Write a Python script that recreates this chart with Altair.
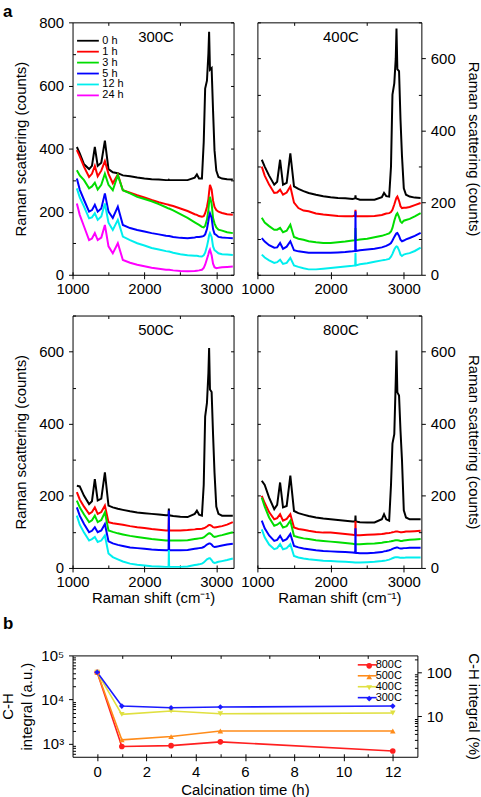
import altair as alt
import pandas as pd

FONT = "Liberation Sans"

# ---------------- Raman spectra (panel a) ----------------
SHIFT = [1060, 1100, 1160, 1230, 1270, 1310, 1350, 1400, 1450, 1500, 1560, 1630, 1700, 1800,
         1900, 2000, 2100, 2200, 2300, 2336, 2340, 2344, 2400, 2500, 2600, 2700, 2730, 2760,
         2800, 2825, 2845, 2870, 2890, 2900, 2912, 2935, 2955, 2975, 3000, 3030, 3080, 3150, 3230]

HOURS = ["0 h", "1 h", "3 h", "5 h", "12 h", "24 h"]
HOUR_COLORS = ["#000000", "#ff0000", "#00dd00", "#0000ff", "#00eeee", "#ff00ff"]

# 300C
C300_0h = [405, 385, 350, 335, 345, 405, 345, 355, 425, 335, 325, 322, 315, 312, 308, 305, 303, 302, 300, 300, 301, 300,
           300, 300, 300, 308, 318, 305, 305, 420, 590, 615, 700, 770, 650, 655, 520, 395, 330, 310, 305, 303, 302]
C300_1h = [395, 375, 342, 310, 320, 345, 312, 330, 360, 320, 290, 318, 268, 260, 252, 245, 237, 230, 224, 222, 222, 221,
           218, 210, 202, 192, 190, 186, 184, 186, 195, 215, 240, 262, 285, 270, 235, 215, 205, 200, 196, 192, 190]
C300_3h = [331, 315, 300, 274, 280, 292, 270, 285, 320, 285, 268, 316, 268, 258, 247, 240, 233, 224, 214, 210, 210, 210,
           204, 192, 180, 166, 162, 158, 152, 150, 155, 175, 205, 230, 247, 225, 180, 163, 150, 143, 140, 135, 132]
C300_5h = [305, 270, 237, 200, 205, 222, 200, 210, 258, 200, 180, 216, 158, 148, 142, 137, 132, 128, 124, 123, 123, 123,
           120, 117, 116, 118, 120, 120, 121, 123, 128, 145, 170, 185, 195, 180, 145, 130, 126, 120, 118, 117, 116]
C300_12h = [274, 245, 216, 179, 182, 195, 174, 185, 226, 165, 142, 174, 121, 110, 100, 93, 85, 80, 75, 74, 74, 74,
            70, 65, 62, 60, 60, 59, 58, 62, 70, 90, 112, 125, 132, 120, 90, 78, 74, 68, 65, 64, 63]
C300_24h = [226, 190, 153, 110, 115, 132, 110, 118, 158, 90, 68, 100, 47, 38, 32, 27, 22, 19, 16, 16, 16, 16,
            14, 12, 11, 12, 13, 14, 16, 22, 32, 50, 65, 74, 80, 62, 35, 24, 21, 22, 24, 25, 26]

# 400C
C400_0h = [319, 300, 275, 250, 258, 319, 250, 255, 337, 245, 238, 232, 227, 222, 218, 215, 213, 212, 210, 212, 220, 212,
           208, 208, 208, 215, 227, 218, 217, 300, 500, 531, 600, 683, 570, 565, 430, 330, 240, 222, 217, 214, 213]
C400_1h = [300, 275, 250, 227, 228, 236, 222, 228, 245, 200, 185, 178, 176, 170, 167, 165, 163, 162, 162, 165, 180, 162,
           162, 162, 163, 166, 168, 170, 171, 174, 180, 195, 208, 214, 217, 205, 190, 185, 186, 186, 188, 193, 199]
C400_3h = [158, 145, 135, 125, 125, 130, 118, 122, 139, 105, 100, 97, 93, 90, 88, 88, 90, 92, 95, 96, 130, 96,
           98, 100, 104, 108, 110, 112, 115, 120, 130, 150, 163, 168, 171, 160, 148, 144, 150, 152, 155, 162, 171]
C400_5h = [102, 92, 82, 75, 76, 88, 72, 78, 93, 68, 65, 63, 61, 61, 61, 61, 62, 63, 65, 66, 176, 66,
           68, 70, 72, 76, 78, 80, 84, 88, 95, 105, 112, 115, 116, 108, 97, 93, 95, 98, 102, 108, 116]
C400_12h = [56, 48, 40, 33, 35, 42, 30, 33, 47, 26, 22, 18, 15, 15, 17, 19, 21, 23, 25, 26, 60, 26,
            29, 32, 36, 40, 41, 42, 44, 50, 58, 70, 77, 79, 78, 68, 56, 52, 56, 58, 60, 66, 75]

# 500C
C500_0h = [228, 226, 200, 177, 185, 246, 187, 192, 265, 173, 168, 164, 161, 157, 154, 152, 150, 148, 146, 146, 165, 146,
           144, 142, 141, 150, 159, 148, 145, 230, 420, 458, 540, 610, 495, 488, 370, 265, 170, 150, 145, 145, 145]
C500_1h = [210, 190, 170, 150, 155, 168, 150, 155, 173, 127, 124, 122, 120, 116, 113, 111, 108, 106, 104, 104, 140, 104,
           104, 104, 105, 107, 108, 108, 109, 110, 112, 115, 118, 119, 119, 117, 113, 112, 113, 114, 116, 120, 127]
C500_3h = [187, 168, 148, 127, 132, 145, 127, 133, 154, 104, 100, 96, 93, 89, 86, 83, 80, 78, 76, 76, 76, 76,
           76, 76, 77, 80, 81, 82, 83, 85, 88, 92, 95, 96, 96, 93, 88, 86, 87, 89, 91, 95, 99]
C500_5h = [168, 145, 122, 99, 103, 113, 99, 104, 122, 74, 68, 64, 61, 57, 55, 53, 51, 50, 49, 49, 159, 49,
           49, 49, 50, 53, 54, 55, 56, 58, 61, 65, 67, 68, 68, 65, 60, 58, 59, 60, 62, 65, 67]
C500_12h = [145, 120, 98, 76, 80, 86, 72, 76, 90, 40, 30, 24, 18, 12, 9, 7, 5, 4, 3, 3, 50, 3,
            3, 3, 4, 8, 9, 10, 12, 15, 19, 24, 26, 27, 27, 22, 16, 14, 15, 17, 19, 22, 26]

# 800C
C800_0h = [242, 230, 195, 163, 175, 237, 168, 172, 256, 158, 152, 148, 144, 140, 137, 135, 133, 131, 129, 129, 145, 129,
           127, 126, 126, 135, 149, 135, 131, 230, 345, 371, 520, 603, 487, 478, 380, 300, 160, 140, 135, 135, 135]
C800_1h = [200, 180, 155, 135, 138, 149, 131, 136, 149, 112, 108, 106, 103, 100, 98, 98, 96, 94, 92, 91, 130, 91,
           91, 92, 93, 94, 95, 96, 97, 98, 99, 100, 101, 101, 101, 100, 99, 99, 100, 101, 101, 102, 103]
C800_3h = [195, 170, 140, 117, 120, 126, 112, 116, 131, 89, 85, 82, 80, 77, 75, 73, 71, 69, 67, 66, 66, 66,
           66, 67, 68, 70, 71, 72, 73, 74, 75, 76, 77, 77, 77, 76, 75, 75, 76, 77, 78, 79, 80]
C800_5h = [131, 110, 90, 75, 78, 89, 75, 80, 94, 61, 57, 54, 52, 49, 47, 46, 45, 44, 43, 42, 110, 42,
           41, 41, 42, 44, 46, 47, 49, 51, 53, 55, 56, 57, 57, 55, 54, 54, 55, 55, 56, 56, 56]
C800_12h = [107, 85, 65, 52, 55, 66, 52, 55, 66, 33, 29, 26, 24, 22, 20, 19, 18, 17, 16, 15, 15, 15,
            15, 16, 17, 19, 20, 21, 23, 25, 27, 29, 30, 30, 30, 29, 28, 28, 28, 29, 29, 29, 29]

# ---------------- C-H integral (panel b) ----------------
TIMES = [0, 1, 3, 5, 12]
CH_800 = [41500, 870, 910, 1110, 690]
CH_500 = [41500, 1230, 1460, 1950, 1950]
CH_400 = [41500, 4650, 5520, 4790, 4980]
CH_300 = [41500, 7150, 6550, 6800, 7150]
TEMPS = ["800C", "500C", "400C", "300C"]
TEMP_COLORS = ["#ff1f1f", "#ff8c1a", "#e0e040", "#1a1aff"]
TEMP_SHAPES = ["circle", "triangle-up", "triangle-down", "diamond"]

H = 254


def cond(test, a, b):
    return {"condition": {"test": test, "value": a}, "value": b}


def spectra_frame(series):
    rows = []
    for hour, values in series:
        for s, v in zip(SHIFT, values):
            rows.append({"shift": s, "counts": v, "time": hour})
    return pd.DataFrame(rows)


def spectrum_panel(series, label, ymax, side, width, xtitle, legend=None, tag=None):
    df = spectra_frame(series)
    xmaj = "datum.value % 1000 == 0"
    x_axis = alt.Axis(
        values=[1000, 1500, 2000, 2500, 3000], format="d",
        labelExpr="datum.value % 1000 == 0 ? datum.label : ''",
        tickOpacity=cond(xmaj, 1, 0), grid=True,
        gridDash=cond(xmaj, [0, H - 3, 3, 3000], [3, H - 6, 3, 3000]),
        labelPadding=3, title=xtitle, titlePadding=1)
    ymaj = "datum.value % 200 == 0"
    y_axis = alt.Axis(
        orient=side, values=list(range(0, ymax + 1, 100)), format="d",
        labelExpr="datum.value % 200 == 0 ? datum.label : ''",
        tickOpacity=cond(ymaj, 1, 0), grid=True,
        gridDash=cond(ymaj, [0, width - 3, 3, 3000], [3, width - 6, 3, 3000]),
        labelPadding=5, title="Raman scattering (counts)", titlePadding=10)
    color = alt.Color("time:N", scale=alt.Scale(domain=HOURS, range=HOUR_COLORS),
                      legend=legend, sort=HOURS)
    lines = alt.Chart(df).mark_line(strokeWidth=2).encode(
        x=alt.X("shift:Q", scale=alt.Scale(domain=[1000, 3240], nice=False, zero=False), axis=x_axis),
        y=alt.Y("counts:Q", scale=alt.Scale(domain=[0, ymax], nice=False), axis=y_axis),
        color=color,
        order=alt.Order("shift:Q"),
    )
    text = alt.Chart(pd.DataFrame({"panel": [label]})).mark_text(
        fontSize=15, font=FONT, baseline="middle", align="center", color="black"
    ).encode(text="panel:N", x=alt.value(84), y=alt.value(15))
    layers = [lines, text]
    if tag:
        layers.append(
            alt.Chart(pd.DataFrame({"t": [tag]})).mark_text(
                fontSize=17, fontWeight="bold", font=FONT, align="left", baseline="top", color="black"
            ).encode(text="t:N", x=alt.value(-70), y=alt.value(-18))
        )
    return alt.layer(*layers).properties(width=width, height=H)


spec_legend = alt.Legend(
    orient="none", legendX=10, legendY=13, title=None, symbolType="M-4,0L4,0",
    symbolSize=30, symbolStrokeWidth=1.8, labelFontSize=11, labelOffset=9,
    padding=0, rowPadding=-1.7, labelFont=FONT, labelColor="black")

p300 = spectrum_panel([("0 h", C300_0h), ("1 h", C300_1h), ("3 h", C300_3h), ("5 h", C300_5h),
                       ("12 h", C300_12h), ("24 h", C300_24h)], "300C", 800, "left", 162, None,
                      legend=spec_legend, tag="a")
p400 = spectrum_panel([("0 h", C400_0h), ("1 h", C400_1h), ("3 h", C400_3h), ("5 h", C400_5h),
                       ("12 h", C400_12h)], "400C", 700, "right", 165, None)
p500 = spectrum_panel([("0 h", C500_0h), ("1 h", C500_1h), ("3 h", C500_3h), ("5 h", C500_5h),
                       ("12 h", C500_12h)], "500C", 700, "left", 162, "Raman shift (cm⁻¹)")
p800 = spectrum_panel([("0 h", C800_0h), ("1 h", C800_1h), ("3 h", C800_3h), ("5 h", C800_5h),
                       ("12 h", C800_12h)], "800C", 700, "right", 165, "Raman shift (cm⁻¹)")

# ---------------- panel b ----------------
rows = []
for temp, vals in [("800C", CH_800), ("500C", CH_500), ("400C", CH_400), ("300C", CH_300)]:
    ref = vals[0]
    for t, v in zip(TIMES, vals):
        rows.append({"time": t, "value": v, "temp": temp, "pct": v / ref * 100})
bdf = pd.DataFrame(rows)

BW, BH = 347, 102
YMIN, YMAX = 510, 100000
REF = CH_300[0]

bx_maj = "datum.value % 2 == 0"
b_x = alt.X("time:Q", scale=alt.Scale(domain=[-1, 13], nice=False, zero=False),
            axis=alt.Axis(values=list(range(0, 13)), labelExpr="datum.value % 2 == 0 ? datum.label : ''",
                          tickOpacity=cond(bx_maj, 1, 0), grid=True,
                          gridDash=cond(bx_maj, [0, BH - 3, 3, 3000], [3, BH - 6, 3, 3000]),
                          labelPadding=4, title="Calcination time (h)", titlePadding=3))

left_vals = [600, 700, 800, 900] + [1000 * i for i in range(1, 10)] + [10000 * i for i in range(1, 10)] + [100000]
lmaj = "datum.value == 1000 || datum.value == 10000 || datum.value == 100000"
b_y = alt.Y("value:Q", scale=alt.Scale(type="log", domain=[YMIN, YMAX], nice=False),
            axis=alt.Axis(orient="left", values=left_vals,
                          labelExpr="datum.value == 1000 ? '10³' : datum.value == 10000 ? '10⁴' : datum.value == 100000 ? '10⁵' : ''",
                          tickOpacity=cond(lmaj, 1, 0), grid=True,
                          gridDash=cond(lmaj, [0, 5000], [3, 5000]),
                          labelPadding=5, title=["C-H", "integral (a.u.)"], titlePadding=6,
                          titleLineHeight=19))

right_vals = [2, 3, 4, 5, 6, 7, 8, 9, 10, 20, 30, 40, 50, 60, 70, 80, 90, 100, 200]
rmaj = "datum.value == 10 || datum.value == 100"
b_y2 = alt.Y("pct:Q", scale=alt.Scale(type="log", domain=[YMIN / REF * 100, YMAX / REF * 100], nice=False),
             axis=alt.Axis(orient="right", values=right_vals,
                           labelExpr="datum.value == 10 || datum.value == 100 ? datum.label : ''",
                           tickOpacity=cond(rmaj, 1, 0), grid=True,
                           gridDash=cond(rmaj, [0, 5000], [3, 5000]),
                           labelPadding=5, title="C-H integral (%)", titlePadding=14))

LINE_KEYS = [t + " " for t in TEMPS]
line_legend = alt.Legend(orient="none", legendX=291, legendY=4, title=None, symbolType="M-3,0L3,0",
                         symbolSize=40, symbolStrokeWidth=1.6, labelFontSize=11, labelOffset=3,
                         padding=0, rowPadding=-1.3, labelFont=FONT, labelColor="black")
mark_legend = alt.Legend(orient="none", legendX=293, legendY=5, title=None, symbolSize=32,
                         symbolStrokeWidth=0, labelFontSize=11, labelOpacity=0,
                         padding=0, rowPadding=-1.3, labelFont=FONT)

b_lines = alt.Chart(bdf).transform_calculate(series="datum.temp + ' '").mark_line(strokeWidth=1.6).encode(
    x=b_x, y=b_y,
    color=alt.Color("series:N", scale=alt.Scale(domain=LINE_KEYS, range=TEMP_COLORS), legend=line_legend),
)
b_points = alt.Chart(bdf).mark_point(filled=True, size=32, opacity=1, strokeWidth=0).encode(
    x=b_x, y=b_y,
    fill=alt.Fill("temp:N", scale=alt.Scale(domain=TEMPS, range=TEMP_COLORS), legend=mark_legend),
    shape=alt.Shape("temp:N", scale=alt.Scale(domain=TEMPS, range=TEMP_SHAPES), legend=mark_legend),
)
b_tag = alt.Chart(pd.DataFrame({"t": ["b"]})).mark_text(
    fontSize=17, fontWeight="bold", font=FONT, align="left", baseline="top", color="black"
).encode(text="t:N", x=alt.value(-70), y=alt.value(-40))
b_right = alt.Chart(bdf).mark_point(opacity=0).encode(x=b_x, y=b_y2)

panel_b = alt.layer(alt.layer(b_lines, b_points, b_tag), b_right).resolve_scale(y="independent").properties(
    width=BW, height=BH)

# flush layout: nested rows take no room, so spacing is the offset between plot tops
row1 = alt.hconcat(p300, p400, spacing=24, bounds="flush").resolve_scale(color="independent")
row2 = alt.hconcat(p500, p800, spacing=24, bounds="flush").resolve_scale(color="independent")
top = alt.vconcat(row1, row2, spacing=295, bounds="flush").resolve_scale(color="independent")
chart = alt.vconcat(top, panel_b, spacing=637, bounds="flush").resolve_scale(
    color="independent", fill="independent", shape="independent"
).properties(padding={"left": 0, "top": 0, "right": 0, "bottom": 0})

chart = chart.configure_view(stroke="black", strokeWidth=1).configure_axis(
    labelFont=FONT, titleFont=FONT, labelFontSize=15, titleFontSize=15, titleFontWeight="normal",
    labelColor="black", titleColor="black", tickColor="black", tickWidth=1, tickSize=4,
    gridColor="black", gridWidth=1, gridOpacity=1, domain=False, labelFlush=False, labelOverlap=False
).configure_text(font=FONT)

chart.save("out.html", embed_options={"renderer": "svg", "actions": False})
